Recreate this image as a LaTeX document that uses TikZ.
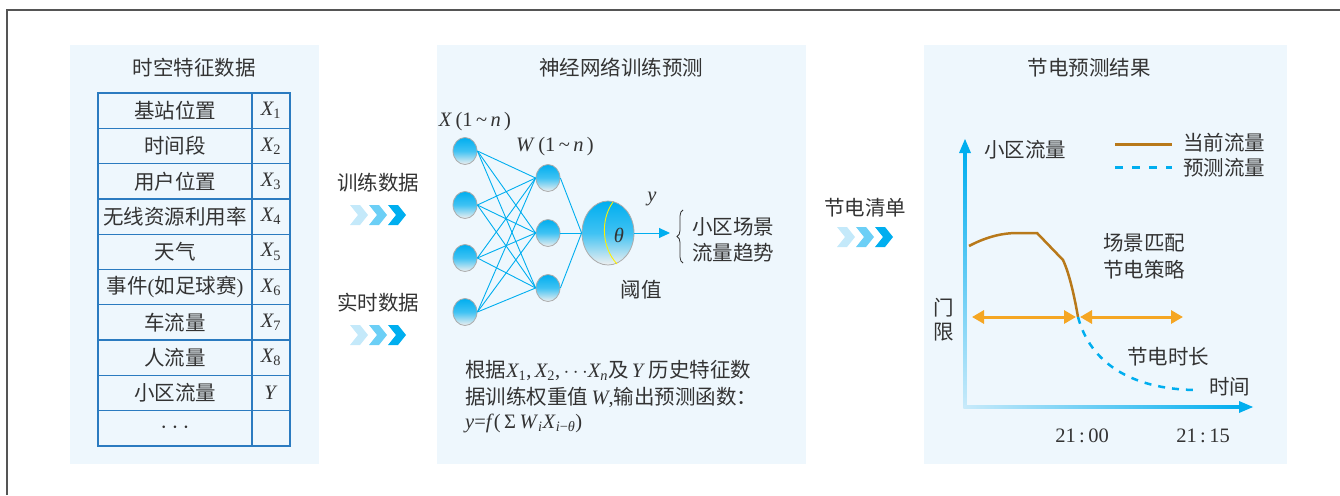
\documentclass[tikz,border=0pt]{standalone}
\usepackage{fontspec}
\setmainfont{Liberation Serif}
\newfontfamily\cjk{Noto Sans CJK SC}
\usetikzlibrary{arrows.meta,shapes.geometric,decorations.pathreplacing}
\definecolor{panelbg}{RGB}{238,247,253}
\definecolor{tblue}{RGB}{43,123,192}
\definecolor{nnblue}{RGB}{0,174,239}
\definecolor{txt}{RGB}{51,51,51}
\definecolor{curbrown}{RGB}{184,121,26}
\definecolor{orng}{RGB}{245,166,35}
\definecolor{chevA}{RGB}{196,233,250}
\definecolor{chevB}{RGB}{108,207,246}
\definecolor{chevC}{RGB}{0,174,239}
\definecolor{framegray}{RGB}{85,85,85}
\definecolor{axislight}{RGB}{200,234,250}
\newcommand\lat[1]{{\rmfamily #1}}
\newcommand\Xs[1]{{\rmfamily\itshape X\textsubscript{\upshape #1}}}
\newcommand\chevs[2]{%
  \foreach \chcol/\dx in {chevA/0, chevB/19, chevC/38}{
    \fill[\chcol] ({#1+\dx},{#2-10}) -- ++(10,0) -- ++(8,10) -- ++(-8,10) -- ++(-10,0) -- ++(8,-10) -- cycle;
  }}
\tikzset{
  lbl/.style={font=\cjk\fontsize{20.5}{25}\selectfont, text=txt, inner sep=0pt},
  mth/.style={font=\rmfamily\fontsize{20.5}{24}\selectfont, text=txt, inner sep=0pt},
  panel/.style={fill=panelbg, draw=none},
  neuron/.style={ellipse, draw=gray!65, line width=0.8pt, top color=nnblue, bottom color=gray!12, middle color=nnblue!75!white, minimum width=24pt, minimum height=27pt, inner sep=0pt},
  syn/.style={draw=nnblue, line width=0.9pt},
  tbl/.style={draw=tblue, line width=1.3pt},
  dbl/.style={draw=orng, line width=3pt, {Triangle[length=12pt,width=13pt]}-{Triangle[length=12pt,width=13pt]}},
}
\begin{document}
\begin{tikzpicture}[x=1pt,y=-1pt]
\useasboundingbox (0,0) rectangle (1340,495);
% outer frame
\draw[framegray, line width=1.5pt] (7,495) -- (7,10) -- (1340,10);
% panels
\fill[panel] (70,45) rectangle (319,464);
\fill[panel] (437,45) rectangle (806,464);
\fill[panel] (924,45) rectangle (1287,464);
% titles
\node[lbl] (t1) at (194,68) {时空特征数据};
\node[lbl] (t2) at (621,68) {神经网络训练预测};
\node[lbl] (t3) at (1089,68) {节电预测结果};
% table
\draw[tbl] (98,93) rectangle (290,446);
\draw[tbl] (252,93) -- (252,446);
\foreach \k in {1,...,9}{ \draw[tbl] (98,{93+35.3*\k}) -- (290,{93+35.3*\k}); }
\foreach \i/\t/\v in {1/基站位置/\Xs{1}, 2/时间段/\Xs{2}, 3/用户位置/\Xs{3}, 4/无线资源利用率/\Xs{4}, 5/天气/\Xs{5}, 6/事件\lat{(}如足球赛\lat{)}/\Xs{6}, 7/车流量/\Xs{7}, 8/人流量/\Xs{8}, 9/小区流量/\lat{\textit{Y}}, 10/{\fontsize{24}{24}\selectfont$\cdots$}/{}}{
  \node[lbl] (c\i) at (175,{93+35.3*(\i-0.5)}) {\t};
  \node[mth] (v\i) at (271,{93+35.3*(\i-0.5)}) {\v};
}
% middle arrows
\node[lbl] (train) at (378,183) {训练数据};
\chevs{350}{215}
\node[lbl] (real) at (378,303) {实时数据};
\chevs{350}{335}
\node[lbl] (list) at (865,208) {节电清单};
\chevs{837}{237}
% neural network
\node[mth] (xlab) at (475,122) {\textit{X}\,(1\,\textasciitilde\,\textit{n}\,)};
\node[mth] (wlab) at (555,147) {\textit{W}\,(1\,\textasciitilde\,\textit{n}\,)};
\foreach \i/\yy in {1/151, 2/205, 3/258, 4/312}{ \node[neuron] (in\i) at (465,\yy) {}; }
\foreach \i/\yy in {1/178, 2/233, 3/288}{ \node[neuron] (h\i) at (548,\yy) {}; }
\node[neuron, minimum width=52pt, minimum height=64pt] (out) at (608,233) {};
\foreach \a in {1,...,4}{ \foreach \b in {1,2,3}{ \draw[syn] (in\a.east) -- (h\b.west); } }
\foreach \b in {1,2,3}{ \draw[syn] (h\b.east) -- (out.west); }
\draw[yellow, line width=0.9pt] (613,202) .. controls (600,220) and (602,248) .. (617,264);
\node[mth] (theta) at (619,235) {\textit{θ}};
\coordinate (ytip) at (670,233);
\draw[syn, -{Triangle[length=11pt,width=10pt]}] (out.east) -- (ytip);
\node[mth] (ylab) at (652,199) {\textit{y}};
\coordinate (bb) at (683,263);
\coordinate (bt) at (683,210);
\draw[txt, line width=0.8pt, decorate, decoration={brace, amplitude=6pt}] (bb) -- (bt);
\node[lbl, anchor=west] (sc1) at (692,227) {小区场景};
\node[lbl, anchor=west] (sc2) at (692,253) {流量趋势};
\node[lbl] (thr) at (641,290) {阈值};
\node[lbl, anchor=west] (d1) at (465,370) {根据\Xs{1}\lat{,\,}\Xs{2}\lat{,\,}$\cdots$\Xs{\textit{n}}及\lat{\,\textit{Y}\,}历史特征数};
\node[lbl, anchor=west] (d2) at (465,397) {据训练权重值\lat{\,\textit{W},}输出预测函数：};
\node[mth, anchor=west] (d3) at (465,423) {\textit{y}=\textit{f}(\,Σ\,\textit{W}\textsubscript{\textit{i}}\textit{X}\textsubscript{\textit{i}−\textit{θ}})};
% chart axes
\shade[top color=nnblue, bottom color=axislight] (963.5,150) rectangle (966.5,408.5);
\fill[nnblue] (965,139) -- (971,153) -- (959,153) -- cycle;
\shade[left color=axislight, right color=nnblue] (963.5,405.5) rectangle (1242,408.5);
\fill[nnblue] (1253,407) -- (1239,401) -- (1239,413) -- cycle;
\node[lbl] (ylab2) at (1025,150) {小区流量};
\node[lbl, anchor=west] (xlab2) at (1209,387) {时间};
\node[lbl] (m1) at (944,308) {门};
\node[lbl] (m2) at (944,332) {限};
% legend
\coordinate (lg1a) at (1115,144); \coordinate (lg1b) at (1172,144);
\coordinate (lg2a) at (1115,167); \coordinate (lg2b) at (1172,167);
\draw[curbrown, line width=3pt] (lg1a) -- (lg1b);
\draw[nnblue, line width=3pt, dash pattern=on 8pt off 9pt] (lg2a) -- (lg2b);
\node[lbl, anchor=west] (lgt1) at (1183,143) {当前流量};
\node[lbl, anchor=west] (lgt2) at (1183,168) {预测流量};
% curves
\coordinate (cross) at (1078,317);
\draw[curbrown, line width=2.5pt] (969,246) .. controls (988,236) and (1004,233) .. (1017,233) -- (1037,233) -- (1063,260) .. controls (1070,275) and (1075,300) .. (cross);
\draw[nnblue, line width=2.5pt, dash pattern=on 7pt off 7pt] (cross) .. controls (1090,362) and (1130,389) .. (1195,390);
% threshold arrows
\coordinate (al) at (972,317);
\coordinate (ar) at (1183,317);
\coordinate (cl) at (1076,317);
\coordinate (cr) at (1080,317);
\draw[dbl] (al) -- (cl);
\draw[dbl] (cr) -- (ar);
\node[lbl, anchor=west] (pm1) at (1103,243) {场景匹配};
\node[lbl, anchor=west] (pm2) at (1103,270) {节电策略};
\node[lbl, anchor=west] (dur) at (1127,357) {节电时长};
\node[mth] (tk1) at (1082,436) {21\,:\,00};
\node[mth] (tk2) at (1203,436) {21\,:\,15};
\end{tikzpicture}
\end{document}
